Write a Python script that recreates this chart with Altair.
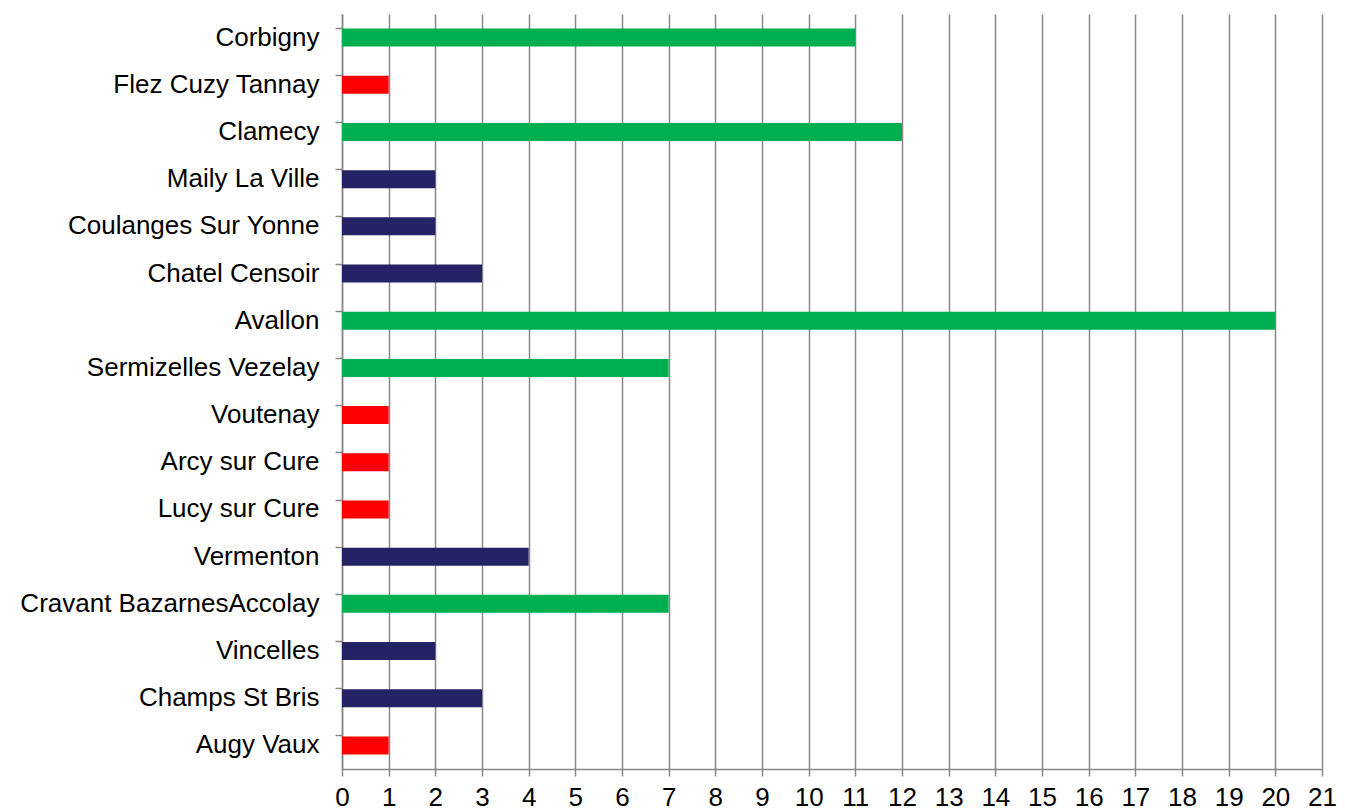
import altair as alt
import pandas as pd

towns = ["Corbigny", "Flez Cuzy Tannay", "Clamecy", "Maily La Ville", "Coulanges Sur Yonne",
         "Chatel Censoir", "Avallon", "Sermizelles Vezelay", "Voutenay", "Arcy sur Cure",
         "Lucy sur Cure", "Vermenton", "Cravant BazarnesAccolay", "Vincelles", "Champs St Bris",
         "Augy Vaux"]
values = [11, 1, 12, 2, 2, 3, 20, 7, 1, 1, 1, 4, 7, 2, 3, 1]
groups = ["g", "r", "g", "b", "b", "b", "g", "g", "r", "r", "r", "b", "g", "b", "b", "r"]
group_names = ["g", "r", "b"]
group_colors = ["#00B050", "#FF0000", "#232366"]

df = pd.DataFrame({"town": towns, "value": values, "group": groups})

chart = alt.Chart(df).mark_bar(size=18).encode(
    y=alt.Y("town:N", sort=towns, title=None,
            scale=alt.Scale(paddingInner=0.6, paddingOuter=0.3),
            axis=alt.Axis(bandPosition=0, grid=False, domainColor="#888888", domainWidth=1.5,
                          tickColor="#888888", tickWidth=1.5, tickSize=7,
                          labelFont="Liberation Sans", labelFontSize=26, labelColor="#000000",
                          labelPadding=16, labelLimit=0)),
    x=alt.X("value:Q", title=None,
            scale=alt.Scale(domain=[0, 21], nice=False),
            axis=alt.Axis(values=list(range(0, 22)), grid=True, gridColor="#888888", gridWidth=1.5,
                          gridOpacity=1, domainColor="#888888", domainWidth=1.5,
                          tickColor="#888888", tickWidth=1.5, tickSize=7,
                          labelFont="Liberation Sans", labelFontSize=26, labelColor="#000000",
                          labelPadding=8, labelFlush=False)),
    color=alt.Color("group:N", scale=alt.Scale(domain=group_names, range=group_colors), legend=None),
).properties(
    width=980, height=755,
    autosize=alt.AutoSizeParams(type="none"),
    padding={"left": 334, "top": 6, "right": 15, "bottom": 42},
).configure_view(stroke=None)

chart.save("out.html", embed_options={"renderer": "svg", "actions": False})
